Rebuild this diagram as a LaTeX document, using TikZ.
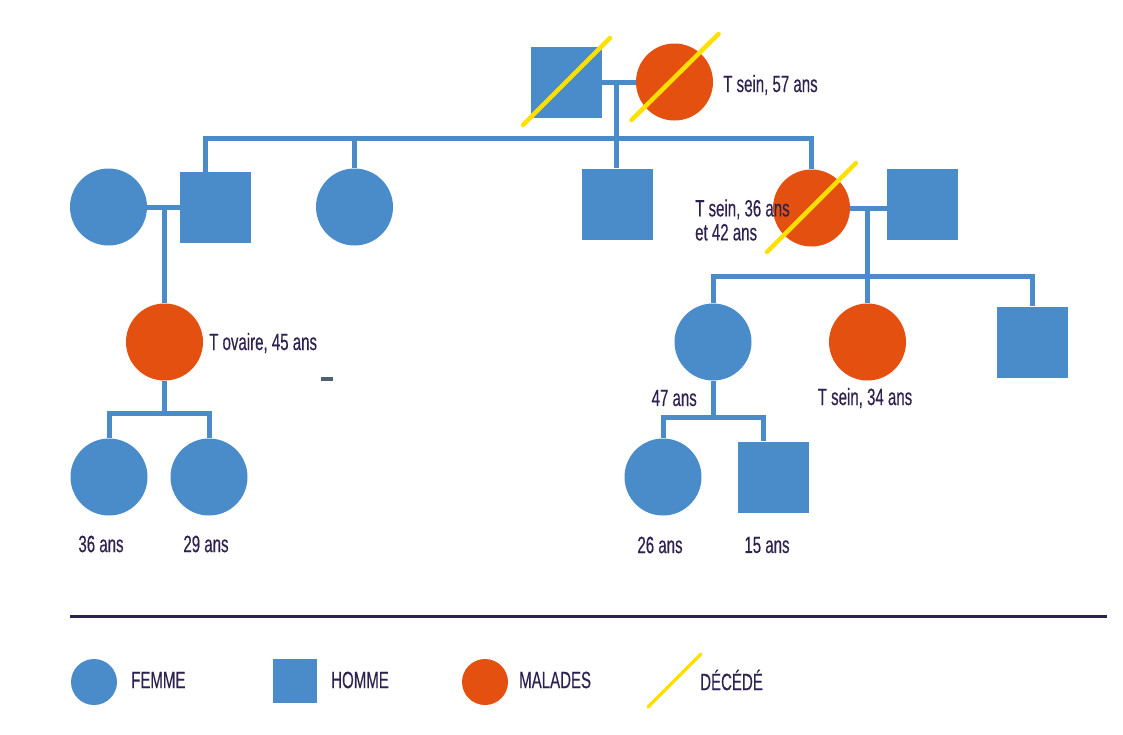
\documentclass[tikz,border=0pt]{standalone}
\usepackage{fontspec}
\setmainfont{Liberation Sans}[FakeStretch=0.64,FakeBold=0.3]
\usetikzlibrary{calc}
\definecolor{pblue}{HTML}{4A8BC9}
\definecolor{pred}{HTML}{E3500F}
\definecolor{pyel}{HTML}{FFE000}
\definecolor{ptext}{HTML}{2D2150}
\definecolor{pdash}{HTML}{4D6270}
\tikzset{
  female/.style={circle,fill=pblue,minimum size=77pt,inner sep=0pt},
  male/.style={rectangle,fill=pblue,minimum size=71pt,inner sep=0pt},
  ill/.style={fill=pred},
  link/.style={draw=pblue,line width=5pt,line join=miter},
  dead/.style={draw=pyel,line width=4.5pt,line cap=round},
  lbl/.style={text=ptext,font=\fontsize{23.5}{24}\selectfont,inner sep=0pt},
  legf/.style={circle,fill=pblue,minimum size=46pt,inner sep=0pt},
  legm/.style={rectangle,fill=pblue,minimum size=44pt,inner sep=0pt},
}
\begin{document}
\begin{tikzpicture}[x=1pt,y=-1pt]
\useasboundingbox (0,0) rectangle (1123,734);
% generation 1
\node[male] (gf) at (566,82) {};
\node[female,ill] (gm) at (674.5,82) {};
% generation 2
\node[female] (w1) at (108.5,207) {};
\node[male] (h1) at (215.5,207.5) {};
\node[female] (s2) at (354.5,207) {};
\node[male] (b2) at (617,204) {};
\node[female,ill] (d1) at (811.5,208) {};
\node[male] (h2) at (922.5,204) {};
% generation 3
\node[female,ill] (c3) at (164.5,342) {};
\node[female] (r1) at (713,342) {};
\node[female,ill] (r2) at (867.5,342) {};
\node[male] (r3) at (1032,342) {};
% generation 4
\node[female] (g1) at (109,477) {};
\node[female] (g2) at (209,477) {};
\node[female] (g3) at (663,477) {};
\node[male] (g4) at (773,477) {};
% junctions
\coordinate (m1) at (616.5,82);
\coordinate (sA) at (205.5,138);
\coordinate (sB) at (811.5,138);
\coordinate (m2) at (164.5,207);
\coordinate (sC) at (109,413);
\coordinate (sD) at (209,413);
\coordinate (m3) at (867,207);
\coordinate (sE) at (713,276);
\coordinate (sF) at (1032,276);
\coordinate (sG) at (663,417);
\coordinate (sH) at (763,417);
% connectors
\draw[link] (gf.east) -- (gm.west);
\draw[link] (m1) -- (m1 |- b2.north);
\draw[link] (sA |- h1.north) -- (sA) -- (sB) -- (d1.north);
\draw[link] (s2.north |- sA) -- (s2.north);
\draw[link] (w1.east) -- (w1.east -| h1.west);
\draw[link] (m2) -- (c3.north);
\draw[link] (c3.south) -- (c3.south |- sC);
\draw[link] (g1.north) -- (sC) -- (sD) -- (g2.north);
\draw[link] (d1.east) -- (d1.east -| h2.west);
\draw[link] (m3) -- (m3 |- sE);
\draw[link] (r1.north) -- (sE) -- (sF) -- (r3.north);
\draw[link] (r2.north |- sE) -- (r2.north);
\draw[link] (r1.south) -- (r1.south |- sG);
\draw[link] (g3.north) -- (sG) -- (sH) -- (sH |- g4.north);
% labels
\node[lbl,anchor=west] (t1) at (723,85) {T sein, 57 ans};
\node[lbl,anchor=west,align=left] (t2) at (695,220) {T sein, 36 ans\\et 42 ans};
\node[lbl,anchor=west] (t3) at (209,343) {T ovaire, 45 ans};
\node[lbl,anchor=east] (t4) at (697,398) {47 ans};
\node[lbl] (t5) at (865,398) {T sein, 34 ans};
\node[lbl] (t6) at (101,544) {36 ans};
\node[lbl] (t7) at (206,544) {29 ans};
\node[lbl] (t8) at (660,545) {26 ans};
\node[lbl] (t9) at (767,545) {15 ans};
\fill[pdash] (321,377) rectangle (333,381);
% deceased marks
\draw[dead] ($(gf.center)+(-43,43)$) -- ($(gf.center)+(44,-44)$);
\draw[dead] ($(gm.center)+(-43,38)$) -- ($(gm.center)+(44,-48)$);
\draw[dead] ($(d1.center)+(-44.5,44)$) -- ($(d1.center)+(44.5,-45)$);
% legend
\draw[draw=ptext,line width=3pt] (70,616) -- (1107,616);
\node[legf] (lf) at (94,682) {};
\node[lbl,anchor=west] (lft) at (131,680) {FEMME};
\node[legm] (lm) at (295,681) {};
\node[lbl,anchor=west] (lmt) at (331,680) {HOMME};
\node[legf,fill=pred] (li) at (485,682) {};
\node[lbl,anchor=west] (lit) at (519,680) {MALADES};
\coordinate (ld1) at (648,707);
\coordinate (ld2) at (701,654);
\draw[dead,line width=3.5pt] (ld1) -- (ld2);
\node[lbl,anchor=west] (ldt) at (700,680) {DÉCÉDÉ};
\end{tikzpicture}
\end{document}
